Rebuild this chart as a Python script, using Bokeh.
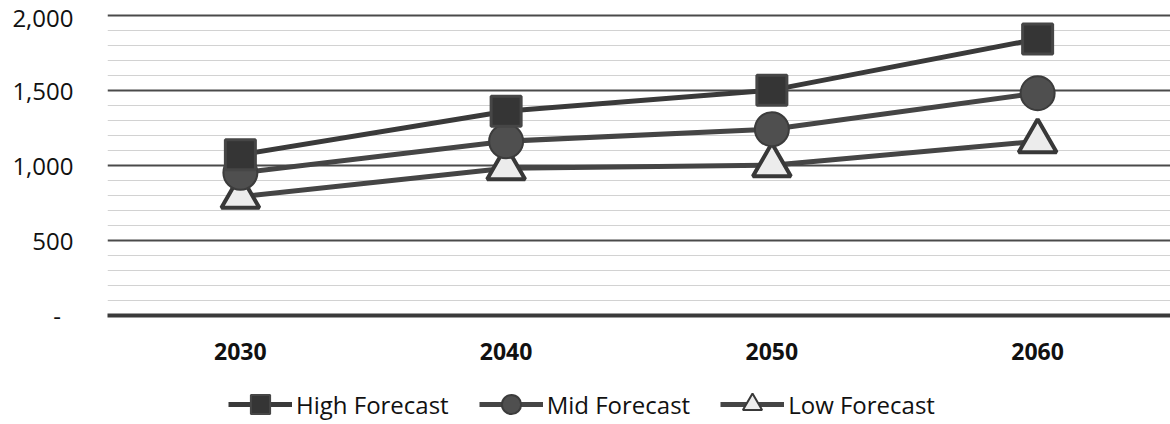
from bokeh.plotting import figure
from bokeh.layouts import column
from bokeh.models import (ColumnDataSource, FixedTicker, Range1d, FactorRange,
                          Legend, LegendItem)
from bokeh.embed import file_html
from bokeh.resources import INLINE

# Forecast values by decade
years = ["2030", "2040", "2050", "2060"]
high = [1070, 1360, 1500, 1840]
mid = [950, 1160, 1240, 1480]
low = [790, 980, 1000, 1160]

# Axis ticks
y_major = [0, 500, 1000, 1500, 2000]
y_minor = [v for v in range(100, 2000, 100) if v % 500 != 0]
y_labels = ["-\u00a0\u00a0", "500", "1,000", "1,500", "2,000"]

series_names = ["High Forecast", "Mid Forecast", "Low Forecast"]

FONT = "Open Sans"

# per-series styling: line colour, marker, size, fill, outline, outline width
styles = {
    "high": dict(line="#3a3a3a", marker="square", size=30, fill="#353535", edge="#464646", ew=3),
    "mid": dict(line="#454545", marker="circle", size=34, fill="#4f4f4f", edge="#3c3c3c", ew=2),
    "low": dict(line="#454545", marker="triangle", size=38, fill="#ececec", edge="#383838", ew=4),
}

src = ColumnDataSource(dict(year=years, high=high, mid=mid, low=low))

p = figure(width=1170, height=375, output_backend="svg", toolbar_location=None,
           x_range=FactorRange(*years, range_padding=0),
           y_range=Range1d(0, 2010),
           min_border_left=107, min_border_right=0,
           min_border_top=13, min_border_bottom=60)
p.outline_line_color = None
p.background_fill_color = "white"
p.border_fill_color = "white"

# y axis
p.yaxis.ticker = FixedTicker(ticks=y_major, minor_ticks=y_minor)
p.yaxis.major_label_overrides = {v: s for v, s in zip(y_major, y_labels)}
p.yaxis.axis_line_color = None
p.yaxis.major_tick_line_color = None
p.yaxis.minor_tick_line_color = None
p.yaxis.major_tick_out = 0
p.yaxis.minor_tick_out = 0
p.yaxis.major_label_standoff = 34
p.yaxis.major_label_text_font = FONT
p.yaxis.major_label_text_font_size = "24px"
p.yaxis.major_label_text_color = "#111111"

# x axis
p.xaxis.axis_line_color = "#3a3a3a"
p.xaxis.axis_line_width = 4
p.xaxis.major_tick_line_color = None
p.xaxis.minor_tick_line_color = None
p.xaxis.major_tick_out = 0
p.xaxis.minor_tick_out = 0
p.xaxis.major_label_standoff = 27
p.xaxis.major_label_text_font = FONT
p.xaxis.major_label_text_font_style = "bold"
p.xaxis.major_label_text_font_size = "23px"
p.xaxis.major_label_text_color = "#111111"

# grid
p.xgrid.grid_line_color = None
p.ygrid.grid_line_color = "#4a4a4a"
p.ygrid.grid_line_width = 2
p.ygrid.minor_grid_line_color = "#d2d2d2"
p.ygrid.minor_grid_line_width = 1

# series lines, then markers on top
for key in ["high", "mid", "low"]:
    s = styles[key]
    p.line("year", key, source=src, line_color=s["line"], line_width=5)
for key in ["low", "mid", "high"]:
    s = styles[key]
    p.scatter("year", key, source=src, marker=s["marker"], size=s["size"],
              fill_color=s["fill"], line_color=s["edge"], line_width=s["ew"])

# legend strip underneath the chart
lg = figure(width=1170, height=49, output_backend="svg", toolbar_location=None,
            x_range=Range1d(0, 1), y_range=Range1d(0, 1),
            min_border_left=0, min_border_right=0, min_border_top=0, min_border_bottom=0)
lg.axis.visible = False
lg.grid.visible = False
lg.outline_line_color = None
lg.background_fill_color = "white"
lg.border_fill_color = "white"

# legend-only renderers (a single undefined point, so nothing shows in the strip)
nan = float("nan")
items = []
for name, key in zip(series_names, ["high", "mid", "low"]):
    s = styles[key]
    r_line = lg.line(x=[nan], y=[nan], line_color=s["line"], line_width=5)
    r_mark = lg.scatter(x=[nan], y=[nan], marker=s["marker"], fill_color=s["fill"],
                        line_color=s["edge"], line_width=min(s["ew"], 2))
    items.append(LegendItem(label=name, renderers=[r_line, r_mark]))

legend = Legend(items=items, location=(121, -4), orientation="horizontal",
                glyph_width=64, glyph_height=48, label_standoff=4,
                padding=0, margin=0, spacing=30,
                border_line_color=None, background_fill_alpha=0,
                label_text_font=FONT, label_text_font_size="24px",
                label_text_color="#111111")
lg.add_layout(legend, "center")

layout = column(p, lg, spacing=0)
open("out.html", "w").write(file_html(layout, INLINE))
